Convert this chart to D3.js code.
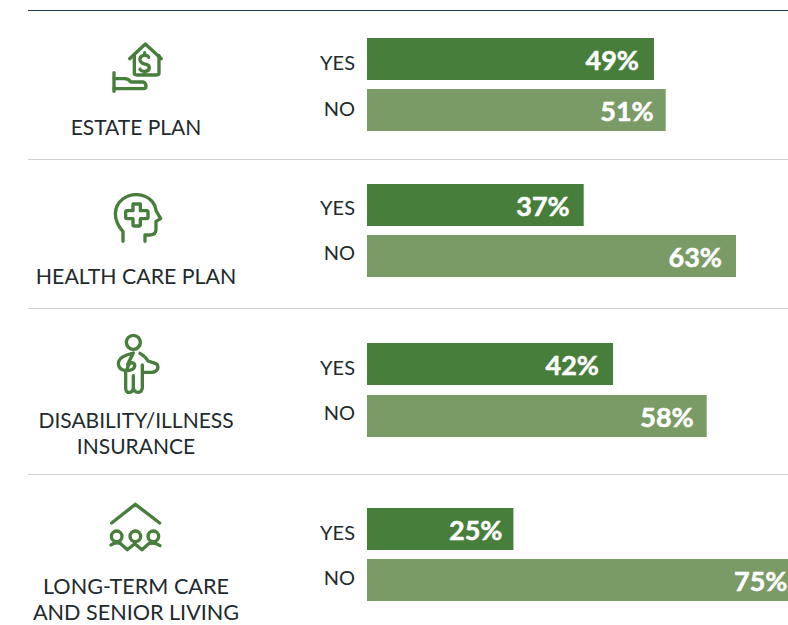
<!DOCTYPE html>
<html><head><meta charset="utf-8">
<script src="https://cdn.jsdelivr.net/npm/d3@7"></script>
<style>html,body{margin:0;padding:0;background:#fff;overflow:hidden}svg{display:block}text{font-family:Lato,sans-serif}</style>
</head><body><svg id="c" width="788" height="625"></svg>
<script>
const categories = [["ESTATE PLAN"],["HEALTH CARE PLAN"],["DISABILITY/ILLNESS","INSURANCE"],["LONG-TERM CARE","AND SENIOR LIVING"]];
const answers = ["YES","NO"];
const yesValues = [49,37,42,25];
const noValues = [51,63,58,75];
const barTops = [[38,89],[184,235],[343,395],[508,559]];
const answerMids = [[62,108],[207,252],[367,412],[532,577]];
const labelInsets = [[15,12],[14,14],[14,13],[11,14]];
const labelBaselines = [135,284,454,620];
const labelSizes = [21,21.3,21,21.6];
const ruleYs = [10.5,159.5,308.5,474.5];
const iconOrigins = [[90,30],[90,180],[90,325],[90,495]];
const colors = ["#477e3b","#7a9b66"];
const ink = "#222a2e";

const svg = d3.select("#c");
const x = d3.scaleLinear().domain([0,100]).range([367,952.7]);
const barH = 42;

ruleYs.forEach((y,i)=>svg.append("line").attr("x1",28).attr("x2",788).attr("y1",y).attr("y2",y)
  .attr("stroke",i===0?"#1f3a44":"#cfd2d0").attr("stroke-width",1));

categories.forEach((lines,i)=>{
  const g = svg.append("g");
  [yesValues[i],noValues[i]].forEach((v,j)=>{
    const top = barTops[i][j];
    g.append("rect").attr("x",x(0)).attr("y",top).attr("width",x(v)-x(0)).attr("height",barH).attr("fill",colors[j]);
    g.append("text").attr("x",Math.min(x(v)-labelInsets[i][j],787.5)).attr("y",top+32).attr("text-anchor","end")
      .attr("fill","#fff").attr("stroke","#fff").attr("stroke-width",0.5)
      .attr("font-size",27).attr("font-weight",700).text(v+"%");
    g.append("text").attr("x",355).attr("y",answerMids[i][j]+7.5).attr("text-anchor","end")
      .attr("fill",ink).attr("font-size",20).text(answers[j]);
  });
  lines.forEach((t,k)=>g.append("text").attr("x",136).attr("y",labelBaselines[i]-(lines.length-1-k)*26)
    .attr("text-anchor","middle").attr("fill",ink).attr("font-size",labelSizes[i]).text(t));
});

// Icons drawn in zoom-crop coordinates (3x) of each 90px-wide icon box
const iconPaths = [
 ["M119 86 L166 42 L214 86","M133 76 V130 Q133 135 140 135 H200 Q207 135 207 130 V76",
  "M176 82 Q172 74 160 76 Q149 79 150 90 Q152 100 164 102 Q178 104 178 114 Q177 124 164 124 Q152 124 150 118 M164 68 V76 M164 124 V130",
  "M72 128 V184","M72 146 H104 Q116 146 122 156 H160 Q168 160 168 168 Q168 176 160 176 H72"],
 ["M99 184 V155 Q76 130 76 100 C78 62 112 42 142 44 C176 46 196 68 198 92 L212 116 L198 124 V148 Q198 165 180 165 H165 V184",
  "M129 72 H151 V92 H170 Q174 92 174 96 V112 Q174 116 170 116 H151 V134 Q151 138 147 138 H133 Q129 138 129 134 V116 H111 Q107 116 107 112 V96 Q107 92 111 92 H129 V76 Q129 72 133 72 Z"],
 ["M130 31 A21 21 0 1 0 130.1 73 A21 21 0 1 0 130 31 Z",
  "M130 84 L110 90 Q84 100 85 118 Q88 136 108 137 Q132 137 134 124 Q136 115 126 113 Q116 114 114 124 L110 137",
  "M128 88 L113 118","M107 140 V190 Q108 204 120 202 Q130 200 130 186 V152 M130 186 Q131 202 144 202 Q156 202 157 188 V120",
  "M150 85 Q168 96 174 108 Q186 112 198 116 Q206 122 203 132 Q198 142 184 142 H160"],
 ["M65 84 L136 28 L209 84",
  "M80 124 m-16 0 a16 16 0 1 0 32 0 a16 16 0 1 0 -32 0","M136 124 m-16 0 a16 16 0 1 0 32 0 a16 16 0 1 0 -32 0","M190 124 m-16 0 a16 16 0 1 0 32 0 a16 16 0 1 0 -32 0",
  "M63 150 Q76 140 92 146 L112 164 L134 146 L156 164 L176 146 Q192 140 210 152"]
];
iconPaths.forEach((paths,i)=>{
  const g = svg.append("g").attr("transform",`translate(${iconOrigins[i][0]},${iconOrigins[i][1]}) scale(${1/3})`)
    .attr("fill","none").attr("stroke",colors[0]).attr("stroke-width",10).attr("stroke-linecap","round").attr("stroke-linejoin","round");
  paths.forEach(d=>g.append("path").attr("d",d));
});
</script></body></html>
